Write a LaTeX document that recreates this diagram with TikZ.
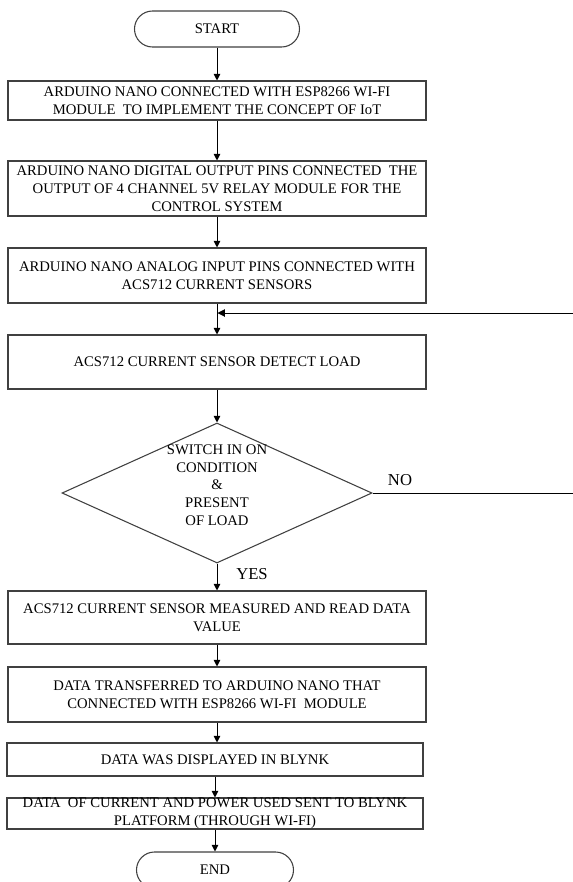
\documentclass[tikz,border=0pt]{standalone}
\usepackage{fontspec}
\setmainfont{Liberation Serif}
\usetikzlibrary{arrows.meta,shapes.geometric}
\definecolor{ink}{HTML}{000000}
\definecolor{edgegray}{HTML}{404040}
\newcommand{\flowfont}{\fontsize{11pt}{13.3pt}\selectfont}
\tikzset{
  flowarr/.style={-{Triangle[length=5pt,width=5pt]},line width=0.75pt,color=ink},
  loopline/.style={-{Triangle[length=5.5pt,width=5.5pt]},line width=0.75pt,color=ink},
  procbox/.style={draw=edgegray,fill=white,line width=0.8pt,align=center,inner sep=2pt,minimum width=313.5pt,font=\flowfont},
  termbox/.style={draw=edgegray,fill=white,line width=0.8pt,rounded corners=13.5pt,minimum height=27pt,align=center,font=\flowfont},
  decision/.style={diamond,draw=edgegray,line width=0.8pt,inner sep=0pt,minimum width=232.5pt,minimum height=105pt},
  branchlabel/.style={font=\fontsize{12.5pt}{15pt}\selectfont,inner sep=1pt}
}

\begin{document}
\begin{tikzpicture}[x=0.75pt,y=-0.75pt]
  \useasboundingbox (0,0) rectangle (572,882);
  \node[termbox,minimum width=123.75pt] (start) at (217,29) {START};
  \node[procbox,minimum height=29.25pt] (nanowifi) at (217,100.5) {ARDUINO NANO CONNECTED WITH ESP8266 WI-FI\\MODULE~ TO IMPLEMENT THE CONCEPT OF IoT};
  \node[procbox,minimum height=41.25pt] (relay) at (217,188.5) {ARDUINO NANO DIGITAL OUTPUT PINS CONNECTED~ THE\\OUTPUT OF 4 CHANNEL 5V RELAY MODULE FOR THE\\CONTROL SYSTEM};
  \node[procbox,minimum height=41.25pt] (analog) at (217,275.5) {ARDUINO NANO ANALOG INPUT PINS CONNECTED WITH\\ACS712 CURRENT SENSORS};
  \node[procbox,minimum height=40.5pt] (detect) at (217,362) {ACS712 CURRENT SENSOR DETECT LOAD};
  \node[decision,label={[font=\flowfont,align=center,yshift=6pt]center:SWITCH IN ON\\CONDITION\\\&\\PRESENT\\OF LOAD}] (check) at (217,493) {};
  \node[procbox,minimum height=39.75pt] (measure) at (217,617.5) {ACS712 CURRENT SENSOR MEASURED AND READ DATA\\VALUE};
  \node[procbox,minimum height=41.25pt] (transfer) at (217,694.5) {DATA TRANSFERRED TO ARDUINO NANO THAT\\CONNECTED WITH ESP8266 WI-FI~ MODULE};
  \node[procbox,minimum width=312pt,minimum height=24.75pt] (display) at (215,759.5) {DATA WAS DISPLAYED IN BLYNK};
  \node[procbox,minimum width=312pt,minimum height=23.25pt,inner sep=0pt] (send) at (215,813.5) {DATA~ OF CURRENT AND POWER USED SENT TO BLYNK\\PLATFORM (THROUGH WI-FI)};
  \node[termbox,minimum width=117.75pt] (stop) at (215,870) {END};

  \draw[flowarr] (start) -- (nanowifi); \draw[flowarr] (nanowifi) -- (relay); \draw[flowarr] (relay) -- (analog);
  \draw[flowarr] (analog) -- (detect); \draw[flowarr] (detect) -- (check); \draw[flowarr] (check) -- (measure);
  \draw[flowarr] (measure) -- (transfer); \draw[flowarr] (transfer) -- (transfer |- display.north);
  \draw[flowarr] (display) -- (send); \draw[flowarr] (send) -- (stop);

  % NO branch goes back above the detect box
  \coordinate (merge) at (217.5,313);
  \coordinate (loopcorner) at (580,313);
  \draw[loopline] (check.east) -- (check.east -| loopcorner) -- (loopcorner) -- (merge);
  \node[branchlabel] (nolabel) at (400,480) {NO};
  \node[branchlabel] (yeslabel) at (252,574) {YES};
\end{tikzpicture}
\end{document}
